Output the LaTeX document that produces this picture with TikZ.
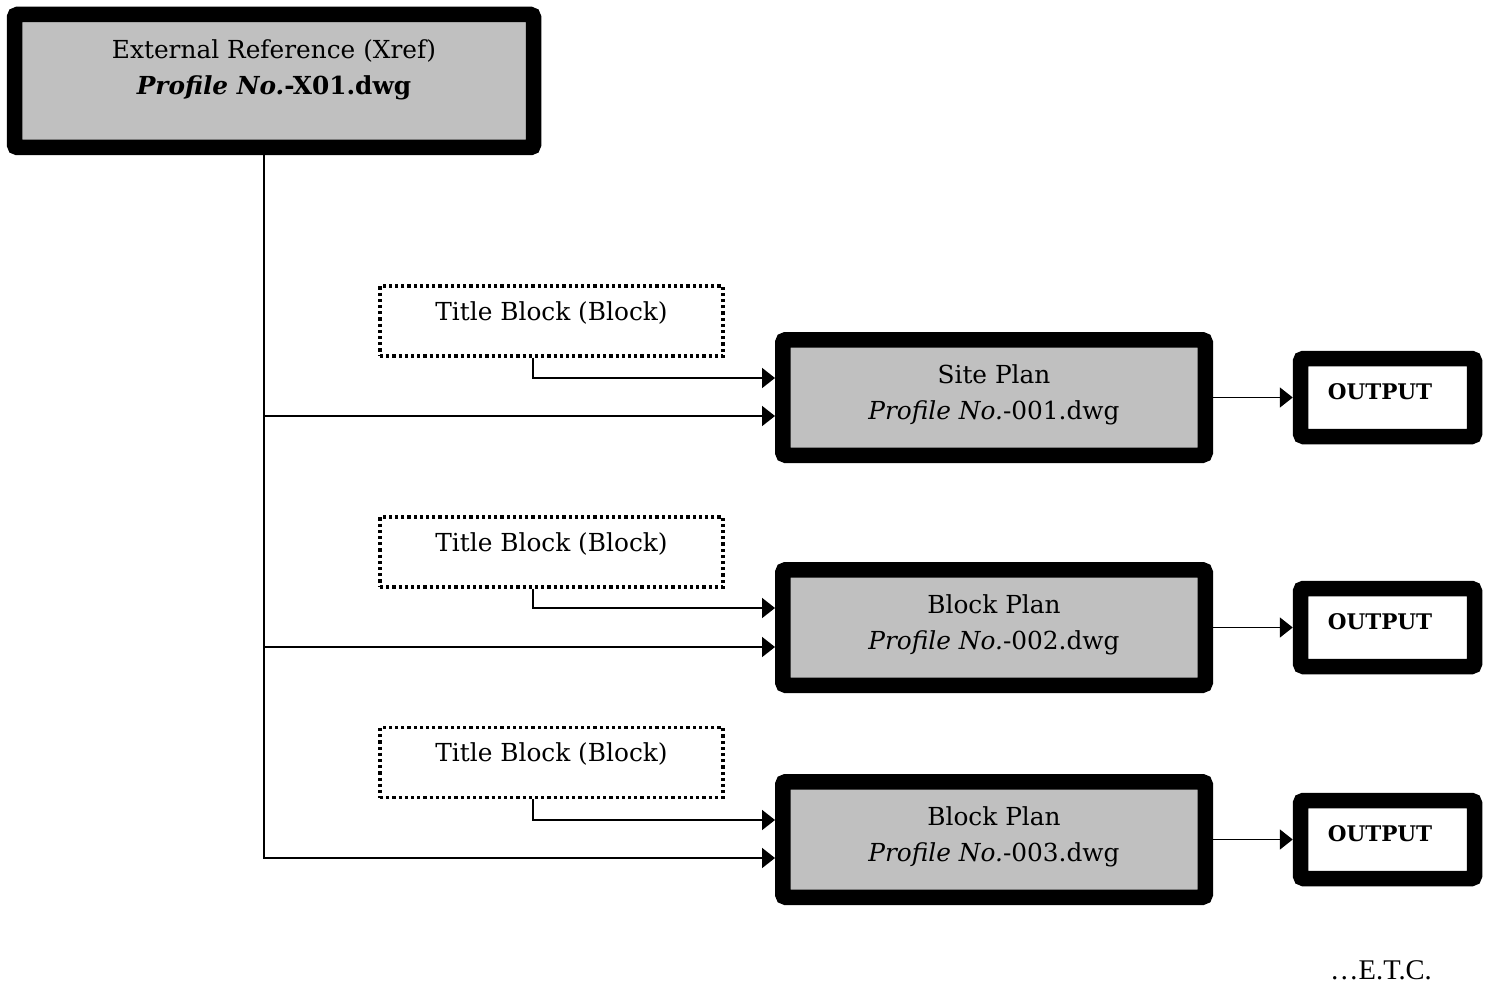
\documentclass[tikz,border=0pt]{standalone}
\usepackage{fontspec}
\setmainfont{DejaVu Serif}
\newfontfamily\etcfont{Liberation Serif}
\usepackage{xcolor}
\usetikzlibrary{positioning, arrows.meta}

\definecolor{boxgray}{RGB}{192,192,192}
\newcommand{\boxfont}{\fontsize{24.8}{36}\selectfont}
\newcommand{\outfont}{\fontsize{21.5}{24}\selectfont}

\tikzset{
  heavy/.style = {draw, line width=15.5pt, rounded corners=3pt, inner sep=0pt},
  drawingbox/.style = {heavy, fill=boxgray, minimum width=422.5pt, minimum height=115.5pt},
  xrefbox/.style = {heavy, fill=boxgray, minimum width=519pt, minimum height=133pt},
  outbox/.style = {heavy, fill=white, minimum width=174pt, minimum height=78pt},
  blockbox/.style = {draw, line width=3.2pt, dash pattern=on 3.2pt off 3pt, minimum width=343pt, minimum height=70pt, inner sep=0pt},
  boxtext/.style = {align=center, font=\boxfont, inner sep=0pt},
  link/.style = {line width=1.8pt},
  arr/.style = {link, -{Triangle[length=13pt, width=20pt]}}
}

\begin{document}
\begin{tikzpicture}[x=1pt, y=-1pt]
  \useasboundingbox (0,0) rectangle (1490,987);

  % external reference at the top
  \node[xrefbox] (xref) at (274,81) {};
  \node[boxtext] (xreftxt) at ([yshift=11.5]xref.center)
  {External Reference (Xref)\\\textbf{\textit{Profile No.}-X01.dwg}};

  % the three drawings
  \node[drawingbox] (site) at (994,397.5) {};
  \node[drawingbox] (blockA) at (994,627.5) {};
  \node[drawingbox] (blockB) at (994,839.5) {};
  \node[boxtext] at ([yshift=2.5]site.center)
  {Site Plan\\\textit{Profile No.}-001.dwg};
  \node[boxtext] at ([yshift=2.5]blockA.center)
  {Block Plan\\\textit{Profile No.}-002.dwg};
  \node[boxtext] at ([yshift=2.5]blockB.center)
  {Block Plan\\\textit{Profile No.}-003.dwg};

  % title blocks
  \node[blockbox] (tb1) at (551.5,321) {};
  \node[blockbox] (tb2) at (551.5,552) {};
  \node[blockbox] (tb3) at (551.5,762.5) {};
  \foreach \t in {tb1, tb2, tb3}
    \node[boxtext] at ([yshift=8]\t.center) {Title Block (Block)};

  % outputs
  \node[outbox] (out1) at (1387.5,397.5) {};
  \node[outbox] (out2) at (1387.5,627.5) {};
  \node[outbox] (out3) at (1387.5,839.5) {};
  \foreach \o in {out1, out2, out3}
    \node[font=\outfont\bfseries, inner sep=0pt] at ([xshift=-7.5, yshift=6]\o.center) {OUTPUT};

  % xref feeding every drawing
  \coordinate (trunk) at ([xshift=-10]xref.south);
  \draw[arr] (trunk) |- ([yshift=-18.5]blockB.west);
  \draw[arr] ([yshift=-18.5]site.west -| trunk) -- ([yshift=-18.5]site.west);
  \draw[arr] ([yshift=-19.5]blockA.west -| trunk) -- ([yshift=-19.5]blockA.west);

  % title blocks into drawings
  \draw[arr] ([xshift=-18.5]tb1.south) |- ([yshift=19.5]site.west);
  \draw[arr] ([xshift=-18.5]tb2.south) |- ([yshift=19.5]blockA.west);
  \draw[arr] ([xshift=-18.5]tb3.south) |- ([yshift=19.5]blockB.west);

  % drawings to output
  \draw[arr] (site.east) -- (out1.west);
  \draw[arr] (blockA.east) -- (out2.west);
  \draw[arr] (blockB.east) -- (out3.west);

  \node[font=\etcfont\fontsize{28.5}{32}\selectfont] (etc) at (1381,970) {\dots E.T.C.};
\end{tikzpicture}
\end{document}
